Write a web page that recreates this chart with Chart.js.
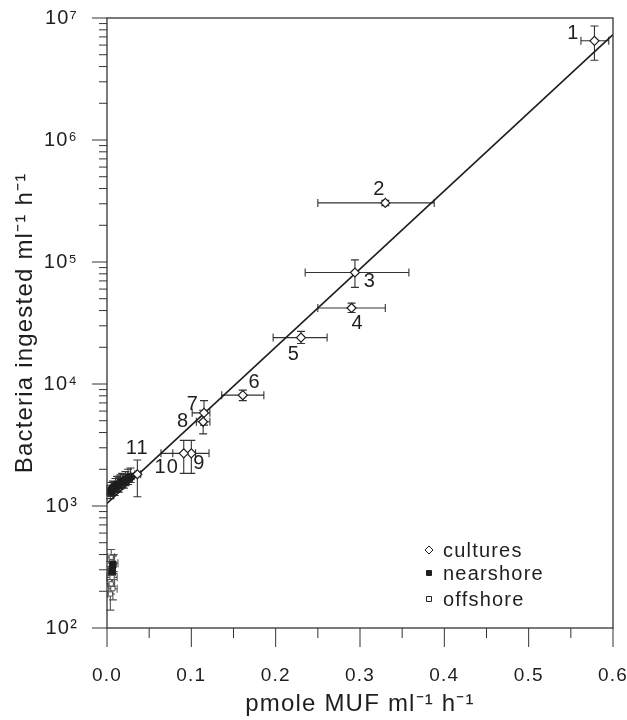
<!DOCTYPE html>
<html><head><meta charset="utf-8">
<script src="https://cdn.jsdelivr.net/npm/chart.js@4.4.1/dist/chart.umd.min.js"></script>
<style>
html,body{margin:0;padding:0;background:#fff}
#wrap{width:627px;height:720px}
</style></head><body>
<div id="wrap"><canvas id="ch" width="627" height="720"></canvas></div>
<script>
// cultures, numbered 1..11
const cultNames=['1','2','3','4','5','6','7','8','9','10','11'];
const cultX=[0.578,0.330,0.294,0.290,0.230,0.161,0.115,0.114,0.100,0.091,0.036];
const cultY=[6.5e6,3.05e5,8.2e4,4.2e4,2.4e4,8.1e3,5.8e3,4.9e3,2.7e3,2.7e3,1.82e3];
const cultXLo=[0.562,0.250,0.235,0.250,0.197,0.136,0.101,0.106,0.078,0.064,0.033];
const cultXHi=[0.595,0.388,0.358,0.330,0.261,0.186,0.122,0.122,0.121,0.105,0.040];
const cultYLo=[4.5e6,2.9e5,6.2e4,3.85e4,2.15e4,7.3e3,4.6e3,3.9e3,1.85e3,1.85e3,1.19e3];
const cultYHi=[8.6e6,3.2e5,1.04e5,4.6e4,2.7e4,8.9e3,7.3e3,6.1e3,3.45e3,3.45e3,2.38e3];
// nearshore
const nearX=[0.004,0.005,0.007,0.009,0.010,0.012,0.014,0.016,0.018,0.020,0.022,0.025,0.028,0.007,0.006];
const nearY=[1300,1350,1400,1380,1450,1500,1480,1550,1600,1580,1650,1700,1750,330,290];
const nearXErr=[0.004,0.005,0.003,0.006,0.004,0.005,0.006,0.004,0.005,0.006,0.004,0.005,0.004,0.003,0.004];
const nearYLo=[1150,1200,1250,1220,1300,1330,1300,1380,1420,1400,1470,1500,1560,280,250];
const nearYHi=[1480,1560,1600,1580,1680,1750,1700,1800,1850,1820,1920,2000,2050,390,340];
// offshore
const offX=[0.005,0.008,0.004,0.006,0.005,0.007,0.004];
const offY=[380,340,300,260,230,210,190];
const offXErr=[0.004,0.005,0.003,0.006,0.004,0.005,0.003];
const offYLo=[320,290,250,220,190,170,140];
const offYHi=[440,400,350,300,270,250,230];
// regression line
const fitX=[0,0.6];
const fitY=[1050,7.3e6];
const legendLabels=['cultures','nearshore','offshore'];

const INK='#1e1e1e';
const FONT='"Liberation Sans", Arial, Helvetica, sans-serif';
const SPACING='1.2px';
const SUP={'0':'⁰','1':'¹','2':'²','3':'³','4':'⁴','5':'⁵','6':'⁶','7':'⁷','8':'⁸','9':'⁹'};
// pixel nudges for the number labels next to the culture points
const labelOffsets=[[-21,-7],[-6,-13],[15,9],[6,16],[-7,17],[12,-13],[-11,-8],[-20,0],[8,10],[-17,14],[0,-26]];

function pts(xs,ys){return xs.map((x,i)=>({x:x,y:ys[i]}))}

function errBars(ctx,sx,sy,xs,ys,xLo,xHi,yLo,yHi){
  const cap=4;
  ctx.beginPath();
  xs.forEach((x,i)=>{
    const px=sx.getPixelForValue(x),py=sy.getPixelForValue(ys[i]);
    const a=sx.getPixelForValue(xLo[i]),b=sx.getPixelForValue(xHi[i]);
    const t=sy.getPixelForValue(yHi[i]),u=sy.getPixelForValue(yLo[i]);
    ctx.moveTo(a,py);ctx.lineTo(b,py);
    ctx.moveTo(a,py-cap);ctx.lineTo(a,py+cap);
    ctx.moveTo(b,py-cap);ctx.lineTo(b,py+cap);
    ctx.moveTo(px,t);ctx.lineTo(px,u);
    ctx.moveTo(px-cap,t);ctx.lineTo(px+cap,t);
    ctx.moveTo(px-cap,u);ctx.lineTo(px+cap,u);
  });
  ctx.stroke();
}

const deco={
  id:'deco',
  beforeUpdate(c){c.ctx.letterSpacing=SPACING},
  beforeDraw(c){c.ctx.letterSpacing=SPACING},
  beforeDatasetsDraw(c){
    const ctx=c.ctx,sx=c.scales.x,sy=c.scales.y;
    ctx.save();
    ctx.strokeStyle='#333';ctx.lineWidth=1.1;
    errBars(ctx,sx,sy,cultX,cultY,cultXLo,cultXHi,cultYLo,cultYHi);
    errBars(ctx,sx,sy,nearX,nearY,nearX.map((v,i)=>v-nearXErr[i]),nearX.map((v,i)=>v+nearXErr[i]),nearYLo,nearYHi);
    ctx.strokeStyle='#555';
    errBars(ctx,sx,sy,offX,offY,offX.map((v,i)=>v-offXErr[i]),offX.map((v,i)=>v+offXErr[i]),offYLo,offYHi);
    ctx.restore();
  },
  afterDatasetsDraw(c){
    const ctx=c.ctx,sx=c.scales.x,sy=c.scales.y,a=c.chartArea;
    ctx.save();
    ctx.fillStyle=INK;
    ctx.font='20px '+FONT;
    ctx.textAlign='center';ctx.textBaseline='middle';
    cultNames.forEach((n,i)=>{
      const o=labelOffsets[i];
      ctx.fillText(n,sx.getPixelForValue(cultX[i])+o[0],sy.getPixelForValue(cultY[i])+o[1]);
    });
    // legend, bottom right inside the frame
    const styles=[['rectRot',4,'#fff'],['rect',3.5,INK],['rect',3.5,'#fff']];
    const lx=a.right-184,ly=[a.bottom-78,a.bottom-55,a.bottom-29];
    ctx.textAlign='left';
    legendLabels.forEach((t,i)=>{
      ctx.fillStyle=styles[i][2];ctx.strokeStyle=INK;ctx.lineWidth=1;
      Chart.helpers.drawPoint(ctx,{pointStyle:styles[i][0],radius:styles[i][1],borderWidth:1,rotation:0},lx,ly[i]);
      ctx.fillStyle=INK;
      ctx.fillText(t,lx+14,ly[i]+1);
    });
    ctx.restore();
  },
  afterDraw(c){
    const ctx=c.ctx,sx=c.scales.x,sy=c.scales.y,a=c.chartArea;
    ctx.save();
    ctx.strokeStyle='#333';ctx.lineWidth=1.3;
    ctx.strokeRect(a.left,a.top,a.right-a.left,a.bottom-a.top);
    ctx.beginPath();
    sx.ticks.forEach(t=>{
      const p=sx.getPixelForValue(t.value);
      const major=Math.abs(t.value*10-Math.round(t.value*10))<1e-6;
      ctx.moveTo(p,a.bottom);ctx.lineTo(p,a.bottom+(major?19:10));
    });
    sy.ticks.forEach(t=>{
      const p=sy.getPixelForValue(t.value);
      const e=Math.log10(t.value);
      const major=Math.abs(e-Math.round(e))<1e-9;
      ctx.moveTo(a.left,p);ctx.lineTo(a.left-(major?15:8),p);
    });
    ctx.lineWidth=1;
    ctx.stroke();
    ctx.restore();
  }
};

const yTickVals=[];
for(let e=2;e<7;e++){for(let m=1;m<10;m++){yTickVals.push(m*Math.pow(10,e))}}
yTickVals.push(1e7);

new Chart(document.getElementById('ch'),{
  type:'scatter',
  data:{datasets:[
    {label:'fit',type:'line',data:pts(fitX,fitY),borderColor:INK,borderWidth:1.6,pointRadius:0,fill:false,order:3},
    {label:'offshore',data:pts(offX,offY),pointStyle:'rect',pointRadius:3,backgroundColor:'#fff',borderColor:'#555',borderWidth:1,order:2},
    {label:'nearshore',data:pts(nearX,nearY),pointStyle:'rect',pointRadius:4.5,backgroundColor:INK,borderColor:INK,borderWidth:1,order:1},
    {label:'cultures',data:pts(cultX,cultY),pointStyle:'rectRot',pointRadius:4.5,backgroundColor:'#fff',borderColor:INK,borderWidth:1.2,order:0}
  ]},
  options:{
    responsive:false,animation:false,
    layout:{padding:{top:18,right:14,left:0,bottom:0}},
    plugins:{legend:{display:false},tooltip:{enabled:false}},
    scales:{
      x:{type:'linear',min:0,max:0.6,
        afterFit(s){s.height=92;s.paddingLeft=0;s.paddingRight=0},
        grid:{display:false},border:{display:false},
        ticks:{stepSize:0.05,autoSkip:false,maxRotation:0,padding:28,color:INK,font:{family:FONT,size:19},
          callback:v=>Math.abs(v*10-Math.round(v*10))<1e-6?v.toFixed(1):''},
        title:{display:true,text:'pmole MUF ml⁻¹ h⁻¹',color:INK,font:{family:FONT,size:24},padding:{top:0,bottom:1}}
      },
      y:{type:'logarithmic',min:100,max:1e7,
        afterFit(s){s.width=107;s.paddingTop=0;s.paddingBottom=0},
        afterBuildTicks(s){s.ticks=yTickVals.map(v=>({value:v}))},
        grid:{display:false},border:{display:false},
        ticks:{autoSkip:false,padding:21,color:INK,font:{family:FONT,size:20},
          callback:v=>{const e=Math.log10(v);return Math.abs(e-Math.round(e))<1e-9?'10'+SUP[Math.round(e)]:''}},
        title:{display:true,text:'Bacteria ingested ml⁻¹ h⁻¹',color:INK,font:{family:FONT,size:24},padding:{top:11,bottom:0}}
      }
    }
  },
  plugins:[deco]
});
</script>
</body></html>
